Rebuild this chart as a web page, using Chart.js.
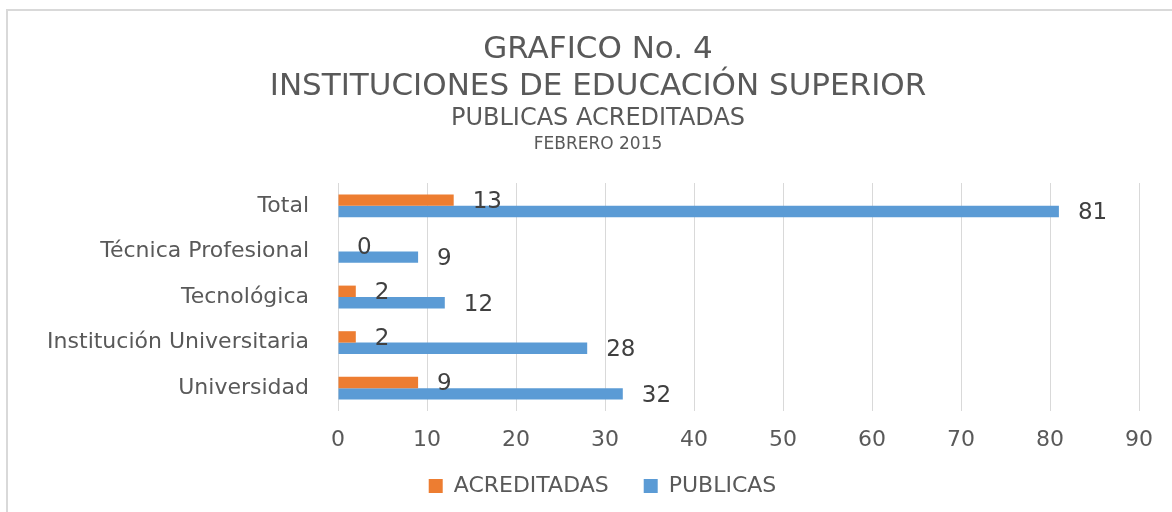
<!DOCTYPE html>
<html lang="es">
<head>
    <meta charset="UTF-8">
    <title>Grafico No. 4</title>
    <script src="https://cdn.jsdelivr.net/npm/chart.js"></script>
    <style>
        body {
            margin: 0;
            background: white;
            overflow: hidden;
        }
        .frame {
            position: absolute;
            left: 6px;
            top: 9px;
            width: 1200px;
            height: 600px;
            border: 2px solid #d9d9d9;
        }
        #chart {
            position: absolute;
            left: 0;
            top: 0;
        }
    </style>
</head>
<body>
    <div class="frame"></div>
    <canvas id="chart" width="1172" height="512"></canvas>

    <script>
        const categories = ['Total', 'Técnica Profesional', 'Tecnológica', 'Institución Universitaria', 'Universidad'];
        const acreditadas = [13, 0, 2, 2, 9];
        const publicas = [81, 9, 12, 28, 32];
        const titleLines = ['GRAFICO No. 4', 'INSTITUCIONES DE EDUCACIÓN SUPERIOR', 'PUBLICAS ACREDITADAS', 'FEBRERO 2015'];

        const FONT = '"DejaVu Sans", sans-serif';

        // title block, four lines of different size
        const titlePlugin = {
            id: 'titleBlock',
            afterDraw(chart) {
                const ctx = chart.ctx;
                const sizes = [31, 31, 24, 17];
                const ys = [50, 87, 119, 145];
                ctx.save();
                ctx.fillStyle = '#595959';
                ctx.textAlign = 'center';
                ctx.textBaseline = 'middle';
                titleLines.forEach((t, i) => {
                    ctx.font = sizes[i] + 'px ' + FONT;
                    ctx.fillText(t, chart.width / 2 + 12, ys[i]);
                });
                ctx.restore();
            }
        };

        // value labels just past the end of each bar
        const valueLabels = {
            id: 'valueLabels',
            afterDatasetsDraw(chart) {
                const ctx = chart.ctx;
                ctx.save();
                ctx.font = '23px ' + FONT;
                ctx.fillStyle = '#404040';
                ctx.textAlign = 'left';
                ctx.textBaseline = 'middle';
                chart.data.datasets.forEach((ds, i) => {
                    chart.getDatasetMeta(i).data.forEach((bar, j) => {
                        ctx.fillText(ds.data[j], bar.x + 19, bar.y + 2);
                    });
                });
                ctx.restore();
            }
        };

        // wide gap between legend items needs a big padding,
        // so move the legend box up and a bit right afterwards
        const legendShift = {
            id: 'legendShift',
            afterLayout(chart) {
                const lg = chart.legend;
                lg.left += 20;
                lg.right += 20;
                lg.top -= 27;
                lg.bottom -= 27;
            }
        };

        new Chart(document.getElementById('chart'), {
            type: 'bar',
            data: {
                labels: categories,
                datasets: [{
                    label: 'ACREDITADAS',
                    data: acreditadas,
                    backgroundColor: '#ED7D31'
                }, {
                    label: 'PUBLICAS',
                    data: publicas,
                    backgroundColor: '#5B9BD5'
                }]
            },
            options: {
                indexAxis: 'y',
                responsive: false,
                animation: false,
                categoryPercentage: 0.5,
                barPercentage: 1,
                layout: {
                    padding: { top: 183, right: 33, bottom: -22, left: 26 }
                },
                scales: {
                    x: {
                        min: 0,
                        max: 90,
                        ticks: {
                            stepSize: 10,
                            padding: 16,
                            color: '#595959',
                            font: { family: FONT, size: 22 }
                        },
                        grid: { color: '#d9d9d9', drawTicks: false },
                        border: { display: false },
                        afterFit(scale) { scale.height = 56; }
                    },
                    y: {
                        ticks: {
                            padding: 21,
                            color: '#595959',
                            font: { family: FONT, size: 22 }
                        },
                        grid: { display: false },
                        border: { display: false },
                        afterFit(scale) { scale.width = 312; }
                    }
                },
                plugins: {
                    legend: {
                        position: 'bottom',
                        labels: {
                            boxWidth: 14,
                            boxHeight: 14,
                            padding: 35,
                            color: '#595959',
                            font: { family: FONT, size: 22 }
                        }
                    },
                    title: { display: false },
                    tooltip: { enabled: false }
                }
            },
            plugins: [titlePlugin, valueLabels, legendShift]
        });
    </script>
</body>
</html>
